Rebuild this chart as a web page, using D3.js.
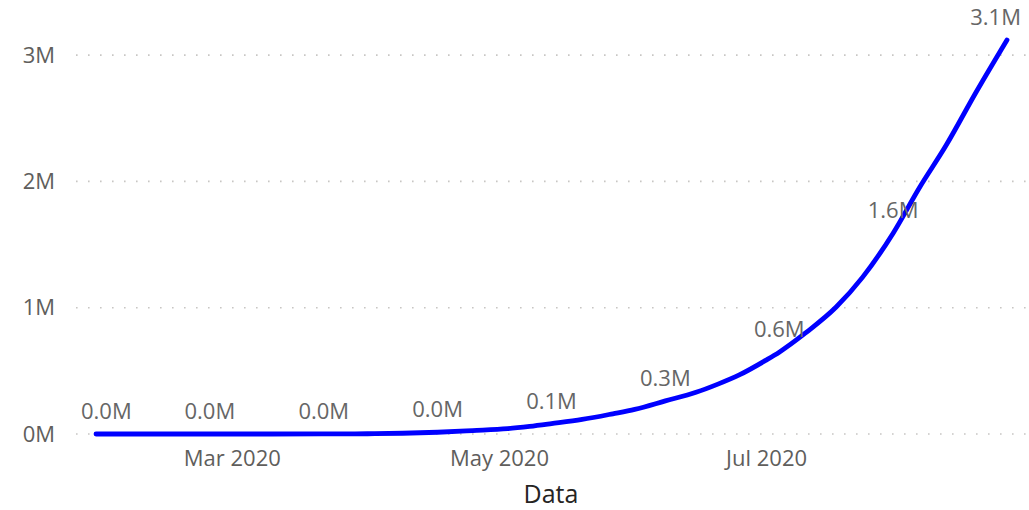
<!DOCTYPE html>
<html>
<head>
<meta charset="utf-8">
<script src="https://cdn.jsdelivr.net/npm/d3@7"></script>
<style>
  html, body { margin: 0; padding: 0; background: #ffffff; }
  svg { display: block; font-family: "Open Sans", "Noto Sans", sans-serif; }
</style>
</head>
<body>
<svg id="chart" width="1029" height="510"></svg>
<script>
// ---- data ----
const dates = ["2020-01-30","2020-02-12","2020-02-25","2020-03-10","2020-03-22","2020-04-01",
  "2020-04-09","2020-04-17","2020-04-25","2020-05-03","2020-05-08","2020-05-13","2020-05-20",
  "2020-05-27","2020-06-01","2020-06-08","2020-06-15","2020-06-20","2020-06-25","2020-07-01",
  "2020-07-04","2020-07-10","2020-07-17","2020-07-23","2020-07-30","2020-08-05","2020-08-11",
  "2020-08-18","2020-08-25"];
const values = [1, 3, 3, 50, 400, 2000,
  6000, 14000, 27000, 42000, 60000, 82000, 115000,
  160000, 195000, 262000, 330000, 395000, 470000, 585000,
  648000, 800000, 1005000, 1240000, 1590000, 1950000, 2280000,
  2710000, 3120000];
const labelDates = ["2020-01-30","2020-02-25","2020-03-22","2020-04-17","2020-05-13",
  "2020-06-08","2020-07-04","2020-07-30","2020-08-25"];
const xTickDates = ["2020-03-01","2020-05-01","2020-07-01"];
const xTickLabels = ["Mar 2020","May 2020","Jul 2020"];
const yTicks = [0, 1000000, 2000000, 3000000];
const yTickLabels = ["0M","1M","2M","3M"];
const xTitle = "Data";

// ---- setup ----
const parse = d3.utcParse("%Y-%m-%d");
const data = dates.map((d, i) => ({ date: parse(d), value: values[i] }));
const svg = d3.select("#chart");

const gridLeft = 76, gridRight = 1026;
const x = d3.scaleUtc()
  .domain([parse(dates[0]), parse(dates[dates.length - 1])])
  .range([96, 1007]);
const y = d3.scaleLinear().domain([0, 3300000]).range([434, 434 - 3.3 * 126.3]);

// gridlines
svg.append("g").selectAll("line").data(yTicks).join("line")
  .attr("x1", gridLeft).attr("x2", gridRight)
  .attr("y1", d => y(d)).attr("y2", d => y(d))
  .attr("stroke", "#c8c6c4").attr("stroke-width", 1.6)
  .attr("stroke-dasharray", "1.6,10.4");

// y axis labels
const yAxis = d3.axisLeft(y).tickValues(yTicks)
  .tickFormat((d, i) => yTickLabels[i]).tickSize(0).tickPadding(0);
const gy = svg.append("g").attr("transform", "translate(55,0)").call(yAxis);
gy.select(".domain").remove();
gy.selectAll("text").attr("font-size", 22).attr("fill", "#605e5c")
  .attr("font-family", "'Open Sans', sans-serif");

// x axis labels
const xTickVals = xTickDates.map(parse);
const xAxis = d3.axisBottom(x).tickValues(xTickVals)
  .tickFormat((d, i) => xTickLabels[i]).tickSize(0).tickPadding(0);
const gx = svg.append("g").attr("transform", "translate(0,466)").call(xAxis);
gx.select(".domain").remove();
gx.selectAll("text").attr("dy", 0).attr("y", 0)
  .attr("font-size", 22).attr("fill", "#605e5c")
  .attr("font-family", "'Open Sans', sans-serif");

// axis title
svg.append("text").attr("x", 551).attr("y", 503)
  .attr("text-anchor", "middle").attr("font-size", 25)
  .attr("fill", "#252423").text(xTitle);

// line
const line = d3.line().x(d => x(d.date)).y(d => y(d.value)).curve(d3.curveMonotoneX);
svg.append("path").datum(data).attr("d", line)
  .attr("fill", "none").attr("stroke", "#0000ff").attr("stroke-width", 4.8)
  .attr("stroke-linecap", "round").attr("stroke-linejoin", "round");

// data labels
const fmt = v => (v / 1e6).toFixed(1) + "M";
const labelSet = new Set(labelDates);
const labelData = data.filter((d, i) => labelSet.has(dates[i]));
const labels = svg.append("g").selectAll("text").data(labelData).join("text")
  .attr("font-size", 22).attr("fill", "#666666").attr("text-anchor", "middle")
  .attr("y", d => y(d.value) - 15)
  .text(d => fmt(d.value));
labels.each(function(d) {
  const w = this.getComputedTextLength();
  const minL = 81, maxR = 1021;
  let cx = x(d.date);
  cx = Math.max(minL + w / 2, Math.min(maxR - w / 2, cx));
  d3.select(this).attr("x", cx);
});
</script>
</body>
</html>
